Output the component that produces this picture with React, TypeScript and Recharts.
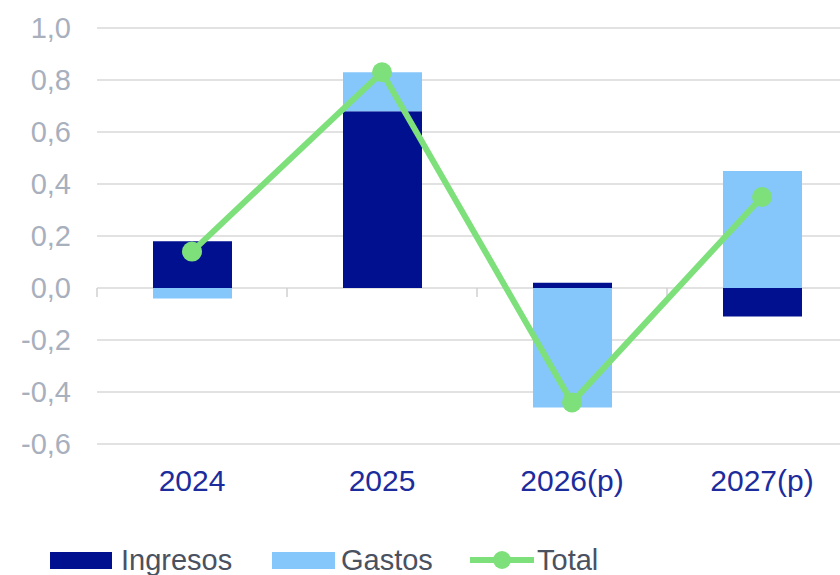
import React from 'react';
import {
  ComposedChart,
  Bar,
  Line,
  XAxis,
  YAxis,
  CartesianGrid,
  ReferenceLine,
  Legend,
} from 'recharts';

const categories = ['2024', '2025', '2026(p)', '2027(p)'];
const ingresos = [0.18, 0.68, 0.02, -0.11];
const gastos = [-0.04, 0.15, -0.46, 0.45];
const total = [0.14, 0.83, -0.44, 0.35];
const yTicks = [-0.6, -0.4, -0.2, 0, 0.2, 0.4, 0.6, 0.8, 1.0];

const data = categories.map((c, i) => ({
  name: c,
  Ingresos: ingresos[i],
  Gastos: gastos[i],
  Total: total[i],
}));

const NAVY = '#00108F';
const LIGHT = '#86C7FB';
const GREEN = '#7DE07B';
const FONT = '"Liberation Sans", Arial, sans-serif';

const LegendContent = () => {
  const txt: React.CSSProperties = {
    position: 'absolute',
    top: 0,
    height: 30,
    lineHeight: '30px',
    fontSize: 29,
    color: '#4A5160',
    fontFamily: FONT,
    whiteSpace: 'nowrap',
  };
  return (
    <div style={{ position: 'relative', width: 840, height: 30 }}>
      <div style={{ position: 'absolute', left: 50, top: 7, width: 62, height: 17, background: NAVY }} />
      <span style={{ ...txt, left: 121 }}>Ingresos</span>
      <div style={{ position: 'absolute', left: 272, top: 7, width: 63, height: 17, background: LIGHT }} />
      <span style={{ ...txt, left: 341 }}>Gastos</span>
      <svg style={{ position: 'absolute', left: 468, top: 0 }} width={68} height={30}>
        <line x1={2} y1={15} x2={66} y2={15} stroke={GREEN} strokeWidth={6} />
        <circle cx={34} cy={15} r={9} fill={GREEN} />
      </svg>
      <span style={{ ...txt, left: 537 }}>Total</span>
    </div>
  );
};

export default function App() {
  return (
    <div
      style={{
        position: 'fixed',
        left: 0,
        top: 0,
        width: 840,
        height: 575,
        overflow: 'hidden',
        background: '#fff',
      }}
    >
      <ComposedChart
        width={880}
        height={575}
        data={data}
        stackOffset="sign"
        margin={{ top: 28, right: 23, bottom: 0, left: 0 }}
      >
        <CartesianGrid vertical={false} stroke="#D9D9D9" strokeWidth={1.5} />
        <XAxis
          dataKey="name"
          height={101}
          tickLine={false}
          axisLine={false}
          tickSize={0}
          tickMargin={26}
          tick={{ fontSize: 30, fill: '#1C2C9C', fontFamily: FONT }}
        />
        <YAxis
          width={97}
          domain={[-0.6, 1.0]}
          ticks={yTicks}
          tickLine={false}
          axisLine={false}
          tickSize={0}
          tickMargin={26}
          tickFormatter={(v: number) => v.toFixed(1).replace('.', ',')}
          tick={{ fontSize: 29, fill: '#A8AFBD', fontFamily: FONT }}
        />
        {categories.map((c) => (
          <ReferenceLine
            key={c}
            position="start"
            ifOverflow="visible"
            segment={[
              { x: c, y: 0 },
              { x: c, y: -0.035 },
            ]}
            stroke="#D0D0D0"
            strokeWidth={1.5}
          />
        ))}
        <Legend
          verticalAlign="bottom"
          width={840}
          wrapperStyle={{ left: 0, width: 840, height: 30 }}
          content={() => <LegendContent />}
        />
        <Bar dataKey="Ingresos" stackId="a" fill={NAVY} barSize={79} isAnimationActive={false} />
        <Bar dataKey="Gastos" stackId="a" fill={LIGHT} barSize={79} isAnimationActive={false} />
        <Line
          dataKey="Total"
          stroke={GREEN}
          strokeWidth={6}
          dot={{ r: 10, fill: GREEN, stroke: 'none' }}
          activeDot={false}
          isAnimationActive={false}
        />
      </ComposedChart>
    </div>
  );
}
